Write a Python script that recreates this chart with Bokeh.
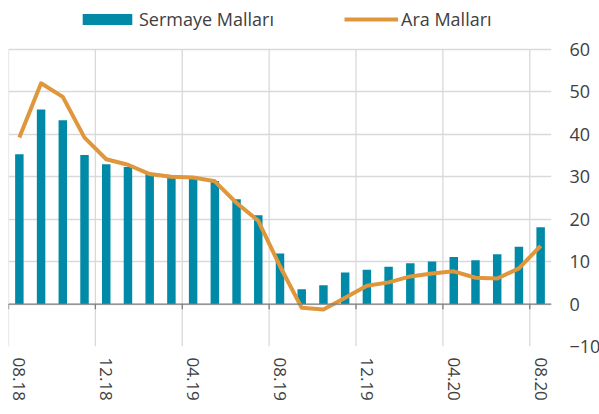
from bokeh.plotting import figure
from bokeh.models import (ColumnDataSource, FixedTicker, Legend, LegendItem,
                          Range1d, Span)
from bokeh.embed import file_html
from bokeh.resources import INLINE

months = ["08.18", "09.18", "10.18", "11.18", "12.18", "01.19", "02.19", "03.19",
          "04.19", "05.19", "06.19", "07.19", "08.19", "09.19", "10.19", "11.19",
          "12.19", "01.20", "02.20", "03.20", "04.20", "05.20", "06.20", "07.20", "08.20"]
sermaye = [35.3, 45.8, 43.3, 35.1, 32.9, 32.3, 30.7, 30.2, 29.8, 29.0, 24.7, 20.9,
           11.9, 3.5, 4.4, 7.4, 8.1, 8.8, 9.6, 10.0, 11.1, 10.3, 11.7, 13.5, 18.1]
ara = [39.2, 52.0, 48.8, 39.2, 34.1, 32.8, 30.6, 30.0, 29.8, 28.9, 23.8, 19.6,
       8.9, -0.9, -1.3, 1.5, 4.3, 5.1, 6.5, 7.2, 7.7, 6.2, 6.0, 8.4, 13.7]
series_names = ["Sermaye Malları", "Ara Malları"]
y_ticks = [-10, 0, 10, 20, 30, 40, 50, 60]

BAR = "#008aa8"
LINE = "#e0963a"
TXT = "#404040"
GRID = "#d9d9d9"
AXIS = "#7f7f7f"
FONT = "Open Sans"

idx = list(range(len(months)))
src = ColumnDataSource(dict(x=idx, s=sermaye, a=ara))

label_idx = idx[::4]
bounds = [i - 0.5 for i in label_idx]
y_lo, y_hi = min(y_ticks), max(y_ticks)
head_room = 9.6   # extra y space above the top gridline for the legend
tick_len = 1.2    # tick mark length in y units (~5px)
gsrc = ColumnDataSource(dict(x=bounds, y0=[y_lo] * len(bounds), y1=[y_hi] * len(bounds)))
tsrc = ColumnDataSource(dict(x=bounds, y0=[0] * len(bounds), y1=[-tick_len] * len(bounds)))

p = figure(frame_width=543, frame_height=338, output_backend="svg", toolbar_location=None,
           x_range=Range1d(-0.5, len(months) - 0.5),
           y_range=Range1d(y_lo, y_hi + head_room),
           y_axis_location="right", min_border_left=8, min_border_right=48,
           min_border_top=8, min_border_bottom=68)
p.outline_line_color = None
p.xgrid.visible = False

p.segment(x0="x", y0="y0", x1="x", y1="y1", source=gsrc, line_color=GRID, line_width=1.3)
bars = p.vbar(x="x", top="s", width=0.39, source=src, fill_color=BAR, line_color=None)
p.add_layout(Span(location=0, dimension="width", line_color=AXIS, line_width=1.3))
p.segment(x0="x", y0="y0", x1="x", y1="y1", source=tsrc, line_color=AXIS, line_width=1.3)
line = p.line(x="x", y="a", source=src, line_color=LINE, line_width=4, line_join="round")

xa = p.xaxis[0]
xa.ticker = FixedTicker(ticks=label_idx)
xa.major_label_overrides = {i: months[i] for i in label_idx}
xa.major_label_orientation = "vertical"
xa.axis_line_color = None
xa.major_tick_line_color = None
xa.minor_tick_line_color = None
xa.major_tick_out = 0
xa.major_tick_in = 0
xa.minor_tick_out = 0
xa.minor_tick_in = 0
xa.major_label_standoff = 11
xa.major_label_text_font = FONT
xa.major_label_text_font_size = "17px"
xa.major_label_text_color = TXT

ya = p.yaxis[0]
ya.ticker = FixedTicker(ticks=y_ticks)
ya.axis_line_color = None
ya.major_tick_line_color = None
ya.minor_tick_line_color = None
ya.major_tick_out = 0
ya.major_tick_in = 0
ya.minor_tick_out = 0
ya.minor_tick_in = 0
ya.major_label_standoff = 18
ya.major_label_text_font = FONT
ya.major_label_text_font_size = "18px"
ya.major_label_text_color = TXT

p.ygrid.ticker = FixedTicker(ticks=y_ticks)
p.ygrid.grid_line_color = GRID
p.ygrid.grid_line_width = 1.3

common = dict(orientation="horizontal", padding=0, margin=0, border_line_alpha=0,
              background_fill_alpha=0, label_text_font=FONT, label_height=26,
              label_text_font_size="18px", label_text_color=TXT)
leg1 = Legend(items=[LegendItem(label=series_names[0], renderers=[bars])],
              location=(68, 314), glyph_width=62, glyph_height=14, label_standoff=1, **common)
leg2 = Legend(items=[LegendItem(label=series_names[1], renderers=[line])],
              location=(336, 314), glyph_width=54, glyph_height=14, label_standoff=3, **common)
p.add_layout(leg1, "center")
p.add_layout(leg2, "center")

open("out.html", "w").write(file_html(p, INLINE))
